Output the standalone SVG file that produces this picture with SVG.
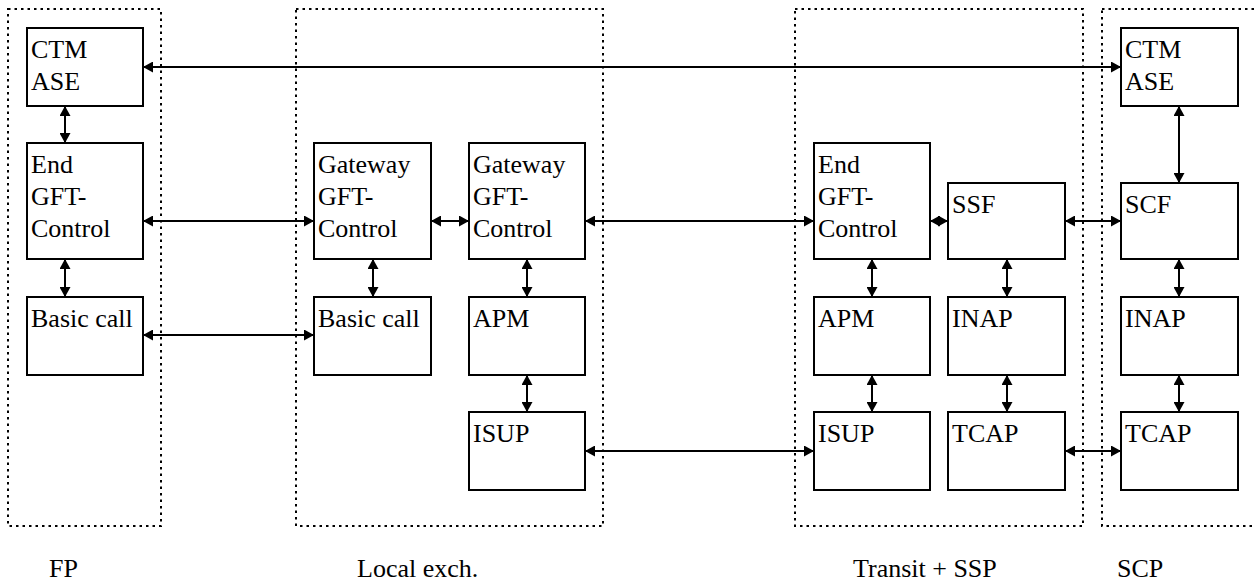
<svg xmlns="http://www.w3.org/2000/svg" width="1254" height="581" viewBox="0 0 1254 581">
<style>
.zone{fill:none;stroke:#000;stroke-width:2;stroke-dasharray:2.5 4}
.box{fill:#fff;stroke:#000;stroke-width:2}
text{font-family:'Liberation Serif','Times New Roman',Tinos,'DejaVu Serif',serif;font-size:26px;fill:#000}
.c{stroke:#000;stroke-width:2;fill:none;marker-start:url(#ah);marker-end:url(#ah)}
</style>
<defs>
<marker id="ah" viewBox="0 0 10 11" refX="10" refY="5.5" markerWidth="10" markerHeight="11" markerUnits="userSpaceOnUse" orient="auto-start-reverse">
<path d="M0,0 L10,5.5 L0,11 z" fill="#000"/>
</marker>
</defs>
<rect width="1254" height="581" fill="#fff"/>
<g id="zones">
<rect class="zone" x="8" y="9" width="153" height="517"/>
<rect class="zone" x="296" y="9" width="307" height="517"/>
<rect class="zone" x="795" y="9" width="288" height="517"/>
<rect class="zone" x="1102" y="9" width="200" height="517"/>
</g>
<g id="zone-labels" font-family="Liberation Serif, serif">
<text x="49" y="577">FP</text>
<text x="357" y="577">Local exch.</text>
<text x="853" y="577">Transit + SSP</text>
<text x="1117" y="577">SCP</text>
</g>
<g id="connectors">
<line class="c" x1="143" y1="67" x2="1121" y2="67"/>
<line class="c" x1="65" y1="106" x2="65" y2="143"/>
<line class="c" x1="65" y1="259" x2="65" y2="297"/>
<line class="c" x1="143" y1="221" x2="314" y2="221"/>
<line class="c" x1="143" y1="335" x2="314" y2="335"/>
<line class="c" x1="431" y1="221" x2="469" y2="221"/>
<line class="c" x1="373" y1="259" x2="373" y2="297"/>
<line class="c" x1="527" y1="259" x2="527" y2="297"/>
<line class="c" x1="527" y1="375" x2="527" y2="412"/>
<line class="c" x1="585" y1="221" x2="814" y2="221"/>
<line class="c" x1="585" y1="451" x2="814" y2="451"/>
<line class="c" x1="930" y1="221" x2="948" y2="221"/>
<line class="c" x1="1065" y1="221" x2="1121" y2="221"/>
<line class="c" x1="1065" y1="451" x2="1121" y2="451"/>
<line class="c" x1="872" y1="259" x2="872" y2="297"/>
<line class="c" x1="872" y1="375" x2="872" y2="412"/>
<line class="c" x1="1007" y1="259" x2="1007" y2="297"/>
<line class="c" x1="1007" y1="375" x2="1007" y2="412"/>
<line class="c" x1="1179" y1="106" x2="1179" y2="183"/>
<line class="c" x1="1179" y1="259" x2="1179" y2="297"/>
<line class="c" x1="1179" y1="375" x2="1179" y2="412"/>
</g>
<g id="fp-ctm"><rect class="box" x="27" y="28" width="116" height="78"/><text x="31" y="58">CTM</text><text x="31" y="90">ASE</text></g>
<g id="fp-end"><rect class="box" x="27" y="143" width="116" height="116"/><text x="31" y="173">End</text><text x="31" y="205">GFT-</text><text x="31" y="237">Control</text></g>
<g id="fp-basic"><rect class="box" x="27" y="297" width="116" height="78"/><text x="31" y="327">Basic call</text></g>
<g id="le-gw1"><rect class="box" x="314" y="143" width="117" height="116"/><text x="318" y="173">Gateway</text><text x="318" y="205">GFT-</text><text x="318" y="237">Control</text></g>
<g id="le-basic"><rect class="box" x="314" y="297" width="117" height="78"/><text x="318" y="327">Basic call</text></g>
<g id="le-gw2"><rect class="box" x="469" y="143" width="116" height="116"/><text x="473" y="173">Gateway</text><text x="473" y="205">GFT-</text><text x="473" y="237">Control</text></g>
<g id="le-apm"><rect class="box" x="469" y="297" width="116" height="78"/><text x="473" y="327">APM</text></g>
<g id="le-isup"><rect class="box" x="469" y="412" width="116" height="78"/><text x="473" y="442">ISUP</text></g>
<g id="tr-end"><rect class="box" x="814" y="143" width="116" height="116"/><text x="818" y="173">End</text><text x="818" y="205">GFT-</text><text x="818" y="237">Control</text></g>
<g id="tr-ssf"><rect class="box" x="948" y="183" width="117" height="76"/><text x="952" y="213">SSF</text></g>
<g id="tr-apm"><rect class="box" x="814" y="297" width="116" height="78"/><text x="818" y="327">APM</text></g>
<g id="tr-inap"><rect class="box" x="948" y="297" width="117" height="78"/><text x="952" y="327">INAP</text></g>
<g id="tr-isup"><rect class="box" x="814" y="412" width="116" height="78"/><text x="818" y="442">ISUP</text></g>
<g id="tr-tcap"><rect class="box" x="948" y="412" width="117" height="78"/><text x="952" y="442">TCAP</text></g>
<g id="scp-ctm"><rect class="box" x="1121" y="28" width="117" height="78"/><text x="1125" y="58">CTM</text><text x="1125" y="90">ASE</text></g>
<g id="scp-scf"><rect class="box" x="1121" y="183" width="117" height="76"/><text x="1125" y="213">SCF</text></g>
<g id="scp-inap"><rect class="box" x="1121" y="297" width="117" height="78"/><text x="1125" y="327">INAP</text></g>
<g id="scp-tcap"><rect class="box" x="1121" y="412" width="117" height="78"/><text x="1125" y="442">TCAP</text></g>
</svg>
